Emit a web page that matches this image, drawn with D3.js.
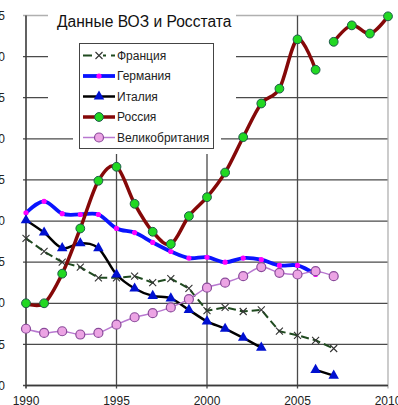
<!DOCTYPE html>
<html><head><meta charset="utf-8">
<script src="https://cdn.jsdelivr.net/npm/d3@7"></script>
<style>html,body{margin:0;padding:0;background:#fff;overflow:hidden}svg{display:block}</style>
</head><body>
<svg id="chart" width="398" height="405"></svg>
<script>
const title = "Данные ВОЗ и Росстата";
const yearTicks = [1990, 1995, 2000, 2005, 2010];
const yTicks = [0, 5, 10, 15, 20, 25, 30, 35, 40, 45];

const yearsA = [1990,1991,1992,1993,1994,1995,1996,1997,1998,1999,2000,2001,2002,2003,2004,2005,2006,2007];
const yearsB = [1990,1991,1992,1993,1994,1995,1996,1997,1998,1999,2000,2001,2002,2003,2004,2005,2006];
const yearsRosstat = [2007,2008,2009,2010];

const france  = [17.9,16.3,15.0,14.4,13.1,13.1,13.3,12.5,13.0,11.8,9.1,9.5,9.0,9.2,6.6,6.1,5.5,4.5];
const germany = [21.0,22.4,20.9,20.8,20.8,19.1,18.6,17.4,16.3,15.5,15.6,15.0,15.5,15.3,14.6,14.6,13.5];
const italy   = [20.1,18.6,16.7,17.3,16.7,13.5,11.8,10.9,10.6,9.2,7.8,6.9,5.8,4.6,null,null,1.9,1.2];
const russiaWHO     = [10.0,10.0,13.6,19.1,24.9,26.6,22.1,18.7,17.2,20.6,22.9,25.9,30.2,34.3,36.1,42.1,38.4];
const russiaRosstat = [41.8,43.8,42.8,44.9];
const uk      = [6.9,6.4,6.6,6.2,6.4,7.4,8.3,8.8,9.5,10.5,11.9,12.5,13.3,14.4,13.7,13.5,13.9,13.3];

const legendNames = ["Франция","Германия","Италия","Россия","Великобритания"];

const svg = d3.select("#chart");
const x = d3.scaleLinear().domain([1990, 2010]).range([26, 388]);
const y = d3.scaleLinear().domain([0, 45]).range([385.5, 15.5]);
const font = "'Liberation Sans', Arial, sans-serif";

// gridlines
const g = svg.append("g");
yTicks.forEach(v => {
  g.append("line").attr("x1", 23).attr("x2", x(2010)).attr("y1", y(v)).attr("y2", y(v))
    .attr("stroke", v === 45 ? "#b0b0b0" : "#4a4a4a").attr("stroke-width", 1.3);
});
yearTicks.forEach(t => {
  g.append("line").attr("x1", x(t)).attr("x2", x(t)).attr("y1", y(45)).attr("y2", y(0) + 3)
    .attr("stroke", t === 2010 ? "#b0b0b0" : (t === 1990 ? "#3a3a3a" : "#4a4a4a")).attr("stroke-width", t === 1990 ? 1.6 : 1.3);
});
g.append("line").attr("x1", x(1990)).attr("x2", x(2010)).attr("y1", y(0)).attr("y2", y(0))
  .attr("stroke", "#3a3a3a").attr("stroke-width", 1.6);

// y labels (clipped on the left like the original)
yTicks.forEach(v => {
  svg.append("text").attr("x", 5).attr("y", y(v)).attr("dy", "0.35em")
    .attr("text-anchor", "end").attr("font-family", font).attr("font-size", 12)
    .attr("fill", "#222").text(v);
});
yearTicks.forEach(t => {
  svg.append("text").attr("x", x(t)).attr("y", 405)
    .attr("text-anchor", "middle").attr("font-family", font).attr("font-size", 12)
    .attr("fill", "#222").text(t);
});

// title background and text
svg.append("rect").attr("x", 48).attr("y", 5).attr("width", 188).attr("height", 100).attr("fill", "#fff");
svg.append("text").attr("x", 57).attr("y", 26.5).attr("font-family", font).attr("font-size", 15.6)
  .attr("fill", "#111").text(title);

// legend background
svg.append("rect").attr("x", 73).attr("y", 37).attr("width", 148).attr("height", 117).attr("fill", "#fff");
svg.append("rect").attr("x", 79.5).attr("y", 43.5).attr("width", 134).attr("height", 105)
  .attr("fill", "#fff").attr("stroke", "#444").attr("stroke-width", 1);

const styles = [
  {stroke:"#1f4a1f", width:2, dash:"8,4", marker:"x"},
  {stroke:"#0a14ff", width:3.8, dash:null, marker:"dot"},
  {stroke:"#000000", width:2.5, dash:null, marker:"tri"},
  {stroke:"#850808", width:3.5, dash:null, marker:"green"},
  {stroke:"#b878d0", width:1.5, dash:null, marker:"pink"}
];

function drawMarker(sel, kind, cx, cy) {
  if (kind === "x") {
    const s = 3.5;
    sel.append("path").attr("d", `M${cx-s},${cy-s}L${cx+s},${cy+s}M${cx-s},${cy+s}L${cx+s},${cy-s}`)
      .attr("stroke", "#333").attr("stroke-width", 1.1).attr("fill", "none");
  } else if (kind === "dot") {
    sel.append("circle").attr("cx", cx).attr("cy", cy).attr("r", 2.6).attr("fill", "#ff00ff");
  } else if (kind === "tri") {
    sel.append("path").attr("d", d3.symbol(d3.symbolTriangle, 48)())
      .attr("transform", `translate(${cx},${cy})`).attr("fill", "#0010d0");
  } else if (kind === "green") {
    sel.append("circle").attr("cx", cx).attr("cy", cy).attr("r", 4.4)
      .attr("fill", "#22d822").attr("stroke", "#1d5a4a").attr("stroke-width", 1);
  } else if (kind === "pink") {
    sel.append("circle").attr("cx", cx).attr("cy", cy).attr("r", 4.5)
      .attr("fill", "#eca4e4").attr("stroke", "#8a4a9a").attr("stroke-width", 1.2);
  }
}

legendNames.forEach((n, i) => {
  const cy = 55.5 + i * 20.5;
  const st = styles[i];
  svg.append("line").attr("x1", 83).attr("x2", 115).attr("y1", cy).attr("y2", cy)
    .attr("stroke", st.stroke).attr("stroke-width", st.width)
    .attr("stroke-dasharray", st.dash ? "9,5" : null);
  if (st.marker === "x") svg.append("rect").attr("x", 94).attr("y", cy - 3).attr("width", 9).attr("height", 6).attr("fill", "#fff");
  drawMarker(svg, st.marker, 99, cy);
  svg.append("text").attr("x", 117).attr("y", cy).attr("dy", "0.35em")
    .attr("font-family", font).attr("font-size", 12).attr("fill", "#222").text(n);
});

function series(years, vals, st, curve) {
  const pts = years.map((yr, i) => [yr, vals[i]]);
  const line = d3.line().defined(d => d[1] !== null).x(d => x(d[0])).y(d => y(d[1])).curve(curve);
  svg.append("path").attr("d", line(pts)).attr("fill", "none")
    .attr("stroke", st.stroke).attr("stroke-width", st.width)
    .attr("stroke-dasharray", st.dash).attr("stroke-linejoin", "round");
  return pts;
}
const smooth = d3.curveCatmullRom.alpha(0);
const all = [];
all.push([series(yearsA, france, styles[0], d3.curveLinear), styles[0]]);
all.push([series(yearsB, germany, styles[1], smooth), styles[1]]);
all.push([series(yearsA, italy, styles[2], smooth), styles[2]]);
all.push([series(yearsB, russiaWHO, styles[3], smooth), styles[3]]);
all.push([series(yearsRosstat, russiaRosstat, styles[3], smooth), styles[3]]);
all.push([series(yearsA, uk, styles[4], smooth), styles[4]]);
all.forEach(([pts, st]) => {
  pts.filter(d => d[1] !== null).forEach(d => drawMarker(svg, st.marker, x(d[0]), y(d[1])));
});
</script>
</body></html>
